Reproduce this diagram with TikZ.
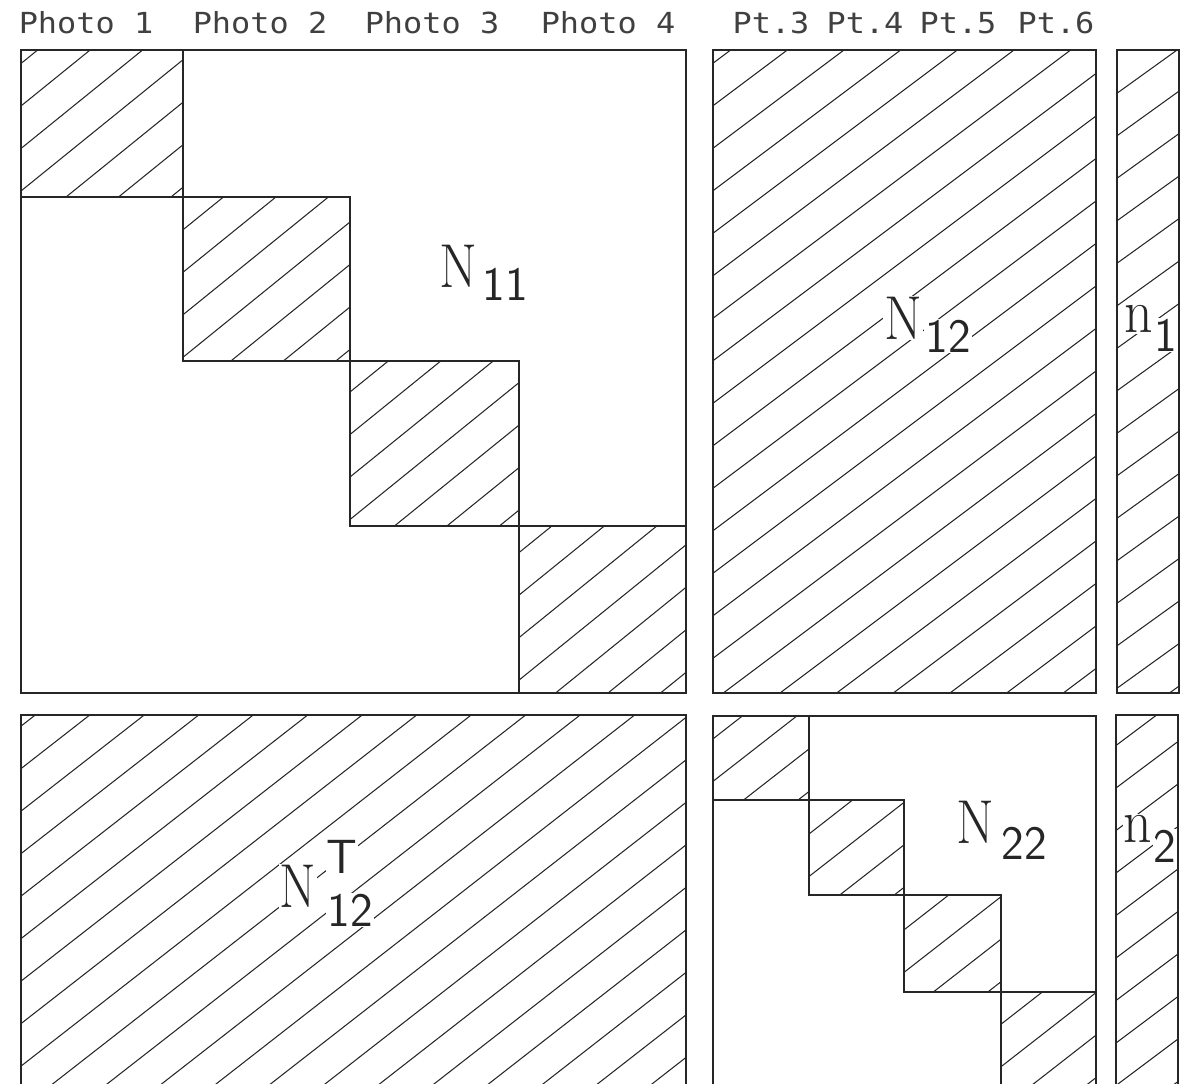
\documentclass[tikz,border=0pt]{standalone}
\usepackage{fontspec}
\usepackage{graphicx}
\newfontfamily\hdrfont[FakeStretch=1.1]{DejaVu Sans Mono}
\tikzset{
 outline/.style={draw=black!85, line width=1.3pt},
 hatchline/.style={draw=black!85, line width=1.05pt},
 hdr/.style={font=\hdrfont\fontsize{29}{29}\selectfont, text=black!75, anchor=base, inner sep=0pt},
 bigN/.style={font=\fontsize{62}{62}\selectfont, text=black!85, inner sep=1pt, fill=white},
 subs/.style={font=\sffamily\fontsize{48}{48}\selectfont, text=black!85, inner sep=1pt, fill=white},
}
\newcommand\hatchbox[6]{%
 \begin{scope}
 \clip (#1,-#2) rectangle (#3,-#4);
 \foreach \k in {-2,...,60}{
   \pgfmathsetmacro\cc{#6+42.5*\k}
   \draw[hatchline] (0,-\cc) -- (1192,{#5*1192-\cc});
 }
 \end{scope}}
\begin{document}
\begin{tikzpicture}[x=1pt,y=1pt]
\useasboundingbox (0,0) rectangle (1192,-1084);
\clip (0,0) rectangle (1192,-1084);
% hatching
\hatchbox{21}{50}{183}{197}{0.81}{38}
\hatchbox{183}{197}{350}{361}{0.81}{38}
\hatchbox{350}{361}{519}{526}{0.81}{38}
\hatchbox{519}{526}{686}{693}{0.81}{38}
\hatchbox{713}{50}{1096}{693}{0.75}{3}
\hatchbox{1117}{50}{1179}{693}{0.72}{5}
\hatchbox{21}{715}{686}{1100}{0.78}{20}
\hatchbox{713}{716}{809}{800}{0.78}{20}
\hatchbox{809}{800}{904}{895}{0.78}{20}
\hatchbox{904}{895}{1001}{992}{0.78}{20}
\hatchbox{1001}{992}{1096}{1089}{0.78}{20}
\hatchbox{1116}{715}{1178}{1100}{0.75}{10}
% outlines top
\draw[outline] (21,-50) rectangle (686,-693);
\draw[outline] (21,-50) rectangle (183,-197);
\draw[outline] (183,-197) rectangle (350,-361);
\draw[outline] (350,-361) rectangle (519,-526);
\draw[outline] (519,-526) rectangle (686,-693);
\draw[outline] (713,-50) rectangle (1096,-693);
\draw[outline] (1117,-50) rectangle (1179,-693);
% outlines bottom
\draw[outline] (21,-715) rectangle (686,-1100);
\draw[outline] (713,-716) rectangle (1096,-1100);
\draw[outline] (713,-716) rectangle (809,-800);
\draw[outline] (809,-800) rectangle (904,-895);
\draw[outline] (904,-895) rectangle (1001,-992);
\draw[outline] (1001,-992) rectangle (1096,-1089);
\draw[outline] (1116,-715) rectangle (1178,-1100);
% headers
\node[hdr] (ph1) at (86,-33) {Photo 1};
\node[hdr] (ph2) at (260,-33) {Photo 2};
\node[hdr] (ph3) at (432,-33) {Photo 3};
\node[hdr] (ph4) at (608,-33) {Photo 4};
\node[hdr] (pt3) at (771,-33) {Pt.3};
\node[hdr] (pt4) at (865,-33) {Pt.4};
\node[hdr] (pt5) at (958,-33) {Pt.5};
\node[hdr] (pt6) at (1056,-33) {Pt.6};
% labels
\node[bigN] (N11) at (458,-266) {\scalebox{0.88}[1]{N}};
\node[subs] (N11s) at (505,-284) {11};
\node[bigN] (N12) at (903,-318) {\scalebox{0.88}[1]{N}};
\node[subs] (N12s) at (948,-336) {12};
\node[bigN] (n1) at (1139,-319) {\scalebox{0.9}[1]{n}};
\node[subs] (n1s) at (1166,-335) {1};
\node[bigN] (NT) at (298,-886) {\scalebox{0.85}[1]{N}};
\node[subs] (NTt) at (342,-857) {T};
\node[subs] (NTs) at (350,-910) {12};
\node[bigN] (N22) at (975,-822) {\scalebox{0.88}[1]{N}};
\node[subs] (N22s) at (1024,-843) {22};
\node[bigN] (n2) at (1138,-829) {\scalebox{0.9}[1]{n}};
\node[subs] (n2s) at (1165,-846) {2};
\end{tikzpicture}
\end{document}
